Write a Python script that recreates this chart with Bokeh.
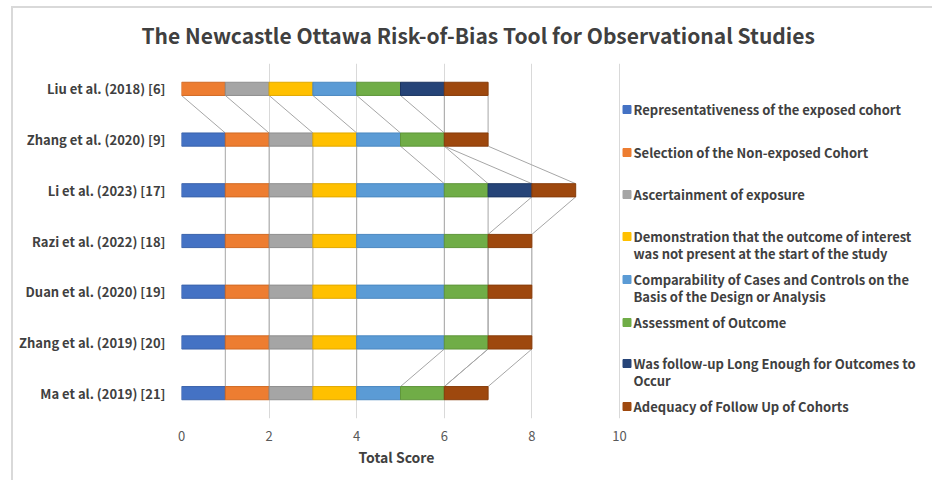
import numpy as np
from bokeh.plotting import figure
from bokeh.models import ColumnDataSource, FixedTicker, Range1d, Title
from bokeh.core.properties import value
from bokeh.embed import file_html
from bokeh.resources import INLINE

# ---------------- data ----------------
studies = ["Liu et al. (2018) [6]", "Zhang et al. (2020) [9]", "Li et al. (2023) [17]",
           "Razi et al. (2022) [18]", "Duan et al. (2020) [19]", "Zhang et al. (2019) [20]",
           "Ma et al. (2019) [21]"]
representativeness = [0, 1, 1, 1, 1, 1, 1]
selection_nonexposed = [1, 1, 1, 1, 1, 1, 1]
ascertainment = [1, 1, 1, 1, 1, 1, 1]
outcome_not_present = [1, 1, 1, 1, 1, 1, 1]
comparability = [1, 1, 2, 2, 2, 2, 1]
assessment = [1, 1, 1, 1, 1, 1, 1]
follow_up_long = [1, 0, 1, 0, 0, 0, 0]
follow_up_adequacy = [1, 1, 1, 1, 1, 1, 1]

series_names = ["Representativeness of the exposed cohort",
                "Selection of the Non-exposed Cohort",
                "Ascertainment of exposure",
                "Demonstration that the outcome of interest\nwas not present at the start of the study",
                "Comparability of Cases and Controls on the\nBasis of the Design or Analysis",
                "Assessment of Outcome",
                "Was follow-up Long Enough for Outcomes to\nOccur",
                "Adequacy of Follow Up of Cohorts"]
x_ticks = [0, 2, 4, 6, 8, 10]
x_title = "Total Score"
chart_title = "The Newcastle Ottawa Risk-of-Bias Tool for Observational Studies"

# ---------------- style ----------------
fills = ["#4472C4", "#ED7D31", "#A5A5A5", "#FFC000", "#5B9BD5", "#70AD47", "#264478", "#9E480E"]
edges = ["#3A62AA", "#D06A24", "#8E8E8E", "#E0A800", "#4B88C0", "#5F963B", "#1C3560", "#873C0A"]
FONT = "Noto Sans CJK KR"
TXT = "#404040"

series = [representativeness, selection_nonexposed, ascertainment, outcome_not_present,
          comparability, assessment, follow_up_long, follow_up_adequacy]
vals = np.array(series, dtype=float).T           # studies x series
ends = np.cumsum(vals, axis=1)
starts = ends - vals
n = len(studies)
ypos = np.arange(n)[::-1].astype(float)           # first study at top
H = 0.26

# canvas geometry (figure is offset by the border/margin styles)
OX, OY = 13, 8
W, HGT = 934 - OX, 482 - OY
FL, FT, FB = 181, 63, 418                          # frame left/top/bottom in page px
UNIT = 43.8                                        # px per score unit
xmax = (934 - FL) / UNIT
ypx = (FB - FT) / n

p = figure(width=W, height=HGT, output_backend="svg", toolbar_location=None,
           x_range=Range1d(0, xmax), y_range=Range1d(-0.5, n - 0.5),
           min_border_left=FL - OX, min_border_right=0, min_border_top=FT - OY,
           min_border_bottom=482 - FB, outline_line_color=None,
           background_fill_color="white", border_fill_color="white")
p.styles = {"margin-left": "11px", "margin-top": "6px",
            "border-top": "2px solid #d9d9d9", "border-left": "2px solid #d9d9d9"}

# series lines
sx0, sy0, sx1, sy1 = [], [], [], []
for i in range(n - 1):
    for j in range(len(series)):
        sx0.append(ends[i, j]); sy0.append(ypos[i] - H / 2)
        sx1.append(ends[i + 1, j]); sy1.append(ypos[i + 1] + H / 2)
p.segment(x0=sx0, y0=sy0, x1=sx1, y1=sy1, line_color="#a6a6a6", line_width=1)

# bar segments (only non-zero values)
L, R, Y, F, E = [], [], [], [], []
for i in range(n):
    for j in range(len(series)):
        if vals[i, j] > 0:
            L.append(starts[i, j]); R.append(ends[i, j]); Y.append(ypos[i])
            F.append(fills[j]); E.append(edges[j])
src = ColumnDataSource(dict(left=L, right=R, y=Y, fill=F, edge=E))
p.hbar(y="y", left="left", right="right", height=H, fill_color="fill",
       line_color="edge", line_width=1, source=src)

# legend (drawn in the right part of the frame)
leg_rows = [109, 152, 194, 236, 279, 322, 363, 406]
def to_y(py):
    return (n - 0.5) - (py - FT) / ypx
mx, my, mc = [], [], []
tx, ty, tt = [], [], []
for k, name in enumerate(series_names):
    mx.append((626.5 - FL) / UNIT); my.append(to_y(leg_rows[k])); mc.append(fills[k])
    for li, line in enumerate(name.split("\n")):
        tx.append((633 - FL) / UNIT); ty.append(to_y(leg_rows[k] + 17 * li)); tt.append(line)
p.scatter(x=mx, y=my, marker="square", size=8, fill_color=mc, line_color=mc)
p.text(x=tx, y=ty, text=tt, text_font=value(FONT), text_font_style="bold",
       text_font_size="13px", text_color=TXT, text_baseline="middle", text_align="left")

# axes
p.xaxis.ticker = FixedTicker(ticks=x_ticks)
p.xaxis.axis_line_color = None
p.xaxis.major_tick_line_color = None
p.xaxis.minor_tick_line_color = None
p.xaxis.major_label_text_font = FONT
p.xaxis.major_label_text_font_size = "13px"
p.xaxis.major_label_text_color = "#595959"
p.xaxis.major_label_standoff = 6

p.yaxis.ticker = FixedTicker(ticks=list(ypos))
p.yaxis.major_label_overrides = {float(y): s for y, s in zip(ypos, studies)}
p.yaxis.axis_line_color = None
p.yaxis.major_tick_line_color = None
p.yaxis.minor_tick_line_color = None
p.yaxis.major_label_text_font = FONT
p.yaxis.major_label_text_font_style = "bold"
p.yaxis.major_label_text_font_size = "13px"
p.yaxis.major_label_text_color = TXT
p.yaxis.major_label_standoff = 10

p.xgrid.ticker = FixedTicker(ticks=x_ticks)
p.xgrid.grid_line_color = "#d9d9d9"
p.ygrid.grid_line_color = None

p.title = Title(text=chart_title, align="left", offset=141 - FL, vertical_align="top",
                text_font=FONT, text_font_size="21px", text_font_style="bold",
                text_color=TXT, standoff=23)
p.add_layout(Title(text=x_title, align="left", offset=358 - FL,
                   text_font=FONT, text_font_size="14px", text_font_style="bold",
                   text_color=TXT, standoff=2), "below")

open("out.html", "w").write(file_html(p, INLINE))
